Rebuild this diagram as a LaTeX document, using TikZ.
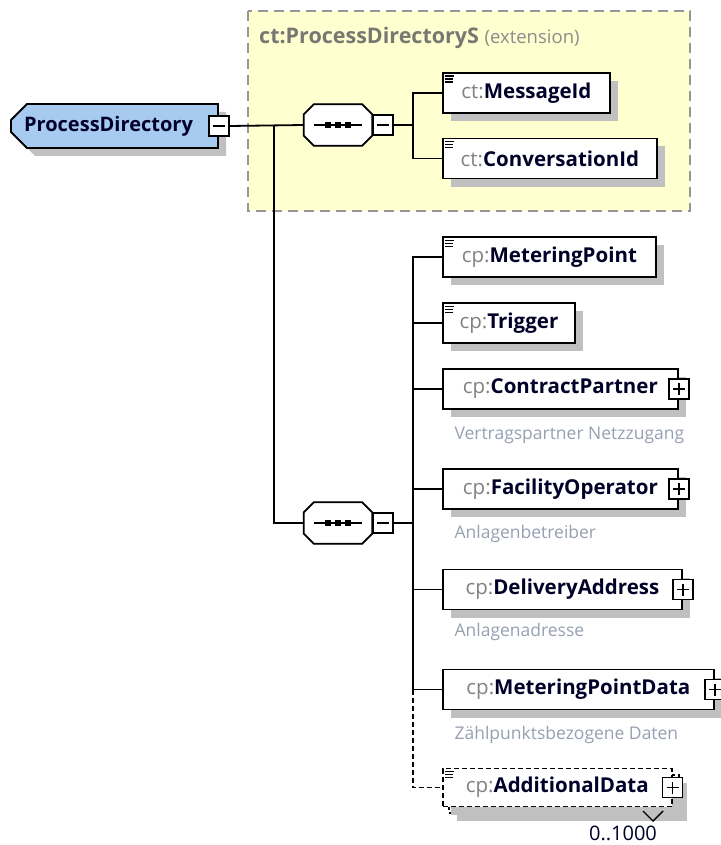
\documentclass[tikz,border=0pt]{standalone}
\usepackage{fontspec}
\setmainfont{Open Sans}
\usetikzlibrary{shapes.misc,shadows}

\definecolor{rootblue}{RGB}{166,202,240}
\definecolor{extyellow}{RGB}{255,255,208}
\definecolor{extborder}{RGB}{150,150,150}
\definecolor{shadowgray}{RGB}{192,192,192}
\definecolor{pfxgray}{RGB}{130,130,130}
\definecolor{extgray}{RGB}{120,120,115}
\definecolor{extlight}{RGB}{140,140,140}
\definecolor{namenavy}{RGB}{0,0,40}
\definecolor{descgray}{RGB}{150,160,178}

\newcommand{\elname}[2]{{\color{pfxgray}\mdseries #1:}{\bfseries #2}}
\newcommand{\simpleicon}[1]{%
  \draw[line width=1.2pt] ([shift={(3,4)}]#1.north west) -- ++(9,0)
    ([shift={(3,7)}]#1.north west) -- ++(8,0)
    ([shift={(3,10)}]#1.north west) -- ++(8,0);}
% octagon of a sequence compositor, drawn over its node
\newcommand{\seqshape}[1]{%
  \foreach \sx/\sy/\col in {8/-8/shadowgray,0/0/white}
    {\filldraw[fill=\col, draw=\ifx\col\seqwhite black\else shadowgray\fi, line width=1.8pt,
        xshift=\sx pt, yshift=\sy pt]
      ([xshift=10pt]#1.north west) -- ([xshift=-10pt]#1.north east)
      -- ([yshift=-10pt]#1.north east) -- ([yshift=10pt]#1.south east)
      -- ([xshift=-10pt]#1.south east) -- ([xshift=10pt]#1.south west)
      -- ([yshift=10pt]#1.south west) -- ([yshift=-10pt]#1.north west) -- cycle;}
  \draw[line width=1.4pt] ([xshift=-24pt]#1.center) -- ([xshift=24pt]#1.center);
  \foreach \dx in {-10,0,10}
    {\fill ([xshift=\dx pt]#1.center) +(-3pt,-3pt) rectangle +(3pt,3pt);}}
\def\seqwhite{white}

\tikzset{
  boxshadow/.style={general shadow={fill=shadowgray, shadow xshift=8pt, shadow yshift=-8pt}},
  conn/.style={line width=1.8pt},
  elem/.style={draw, fill=white, line width=1.8pt, minimum height=40pt, anchor=west,
    inner xsep=0pt, text=namenavy, boxshadow, font=\fontsize{20.5}{24}\selectfont},
  optelem/.style={elem, line width=1.6pt, dash pattern=on 5pt off 3pt, minimum height=38pt},
  rootel/.style={chamfered rectangle, chamfered rectangle corners={north west,south west},
    chamfered rectangle xsep=8pt, chamfered rectangle ysep=8pt, draw, fill=rootblue,
    line width=1.8pt, minimum width=207pt, minimum height=44pt, inner sep=0pt,
    text=namenavy, boxshadow, font=\fontsize{20}{24}\selectfont\bfseries},
  seq/.style={minimum width=68pt, minimum height=41pt, inner sep=0pt},
  pmbox/.style={draw, fill=white, line width=1.5pt, minimum width=20pt, minimum height=20pt, inner sep=0pt},
  minusbox/.style={pmbox, path picture={
      \draw[line width=1.4pt] ([xshift=-6pt]path picture bounding box.center) -- ([xshift=6pt]path picture bounding box.center);}},
  plusbox/.style={pmbox, path picture={
      \draw[line width=1.4pt] ([xshift=-6pt]path picture bounding box.center) -- ([xshift=6pt]path picture bounding box.center)
        ([yshift=-6pt]path picture bounding box.center) -- ([yshift=6pt]path picture bounding box.center);}},
  desc/.style={anchor=west, text=descgray, font=\fontsize{17.5}{21}\selectfont},
}

\begin{document}
\begin{tikzpicture}[x=1pt, y=-1pt]
\useasboundingbox (0,0) rectangle (720,845);

% extension area
\filldraw[fill=extyellow, draw=extborder, line width=1.8pt, dash pattern=on 10pt off 6pt] (248,11) rectangle (690,211);
\node[anchor=west, inner xsep=0pt] (extlbl) at (259,38)
  {{\fontsize{21.5}{23}\selectfont\color{extgray}\bfseries ct:ProcessDirectoryS\ }%
   {\fontsize{18.5}{23}\selectfont\color{extlight}(extension)}};

% root element
\node[rootel] (root) at (114.5,126) {ProcessDirectory\hspace*{12pt}};
\node[minusbox] (rootpm) at (root.east) {};

% sequences
\node[seq] (seqA) at (338,125) {};
\seqshape{seqA}
\node[minusbox, anchor=west] (seqApm) at (seqA.east) {};
\node[seq] (seqB) at (338,523) {};
\seqshape{seqB}
\node[minusbox, anchor=west] (seqBpm) at (seqB.east) {};

% children of the extension
\node[elem, minimum width=167pt] (msgid) at (442,93) {\elname{ct}{MessageId}};
\node[elem, minimum width=214pt] (convid) at (442,158.5) {\elname{ct}{ConversationId}};

% children of the process directory
\node[elem, minimum width=213pt] (mpoint) at (442,257) {\elname{cp}{MeteringPoint}};
\node[elem, minimum width=132pt] (trigger) at (442,323) {\elname{cp}{Trigger}};
\node[elem, minimum width=235pt] (cpart) at (442,389) {\elname{cp}{ContractPartner}};
\node[elem, minimum width=235pt] (facop) at (442,489) {\elname{cp}{FacilityOperator}};
\node[elem, minimum width=239pt] (deladdr) at (442,589.5) {\elname{cp}{DeliveryAddress}};
\node[elem, minimum width=271pt] (mpdata) at (442,689.5) {\elname{cp}{MeteringPointData}};
\node[optelem, minimum width=230pt] (addback) at (448,794) {};
\node[optelem, minimum width=229pt, general shadow={}] (adddata) at (442,787.5) {\elname{cp}{AdditionalData}};

\foreach \n in {cpart,facop,deladdr,mpdata,adddata}
  {\node[plusbox] (\n pm) at (\n.east) {};}
\foreach \n in {msgid,convid,mpoint,trigger,adddata}
  {\simpleicon{\n}}

% descriptions
\node[desc] (cpartdesc) at (451,435) {Vertragspartner Netzzugang};
\node[desc] (facopdesc) at (451,534) {Anlagenbetreiber};
\node[desc] (deladdrdesc) at (451,632) {Anlagenadresse};
\node[desc] (mpdatadesc) at (451,735) {Zählpunktsbezogene Daten};

% occurrence
\draw[line width=1.4pt] (643,811) -- (653,821) -- (663,811);
\node[text=namenavy, font=\fontsize{20}{24}\selectfont] (occ) at (623,833) {0..1000};

% connectors
\coordinate (jroot) at (274,125);
\draw[conn] (rootpm.east) -- (seqA.west);
\draw[conn] (jroot) |- (seqB.west);
\coordinate (jA) at ([xshift=19pt]seqApm.east);
\draw[conn] (seqApm.east) -- (jA);
\draw[conn] (msgid.west) -| (jA) |- (convid.west);
\coordinate (jB) at ([xshift=19pt]seqBpm.east);
\draw[conn] (seqBpm.east) -- (jB);
\draw[conn] (mpoint.west) -| (jB) |- (mpdata.west);
\foreach \n in {trigger,cpart,facop,deladdr}
  {\draw[conn] (\n.west) -- (\n.west -| jB);}
\draw[conn, line width=1.6pt, dash pattern=on 5pt off 3pt] (jB |- mpdata.west) |- (adddata.west);
\end{tikzpicture}
\end{document}
